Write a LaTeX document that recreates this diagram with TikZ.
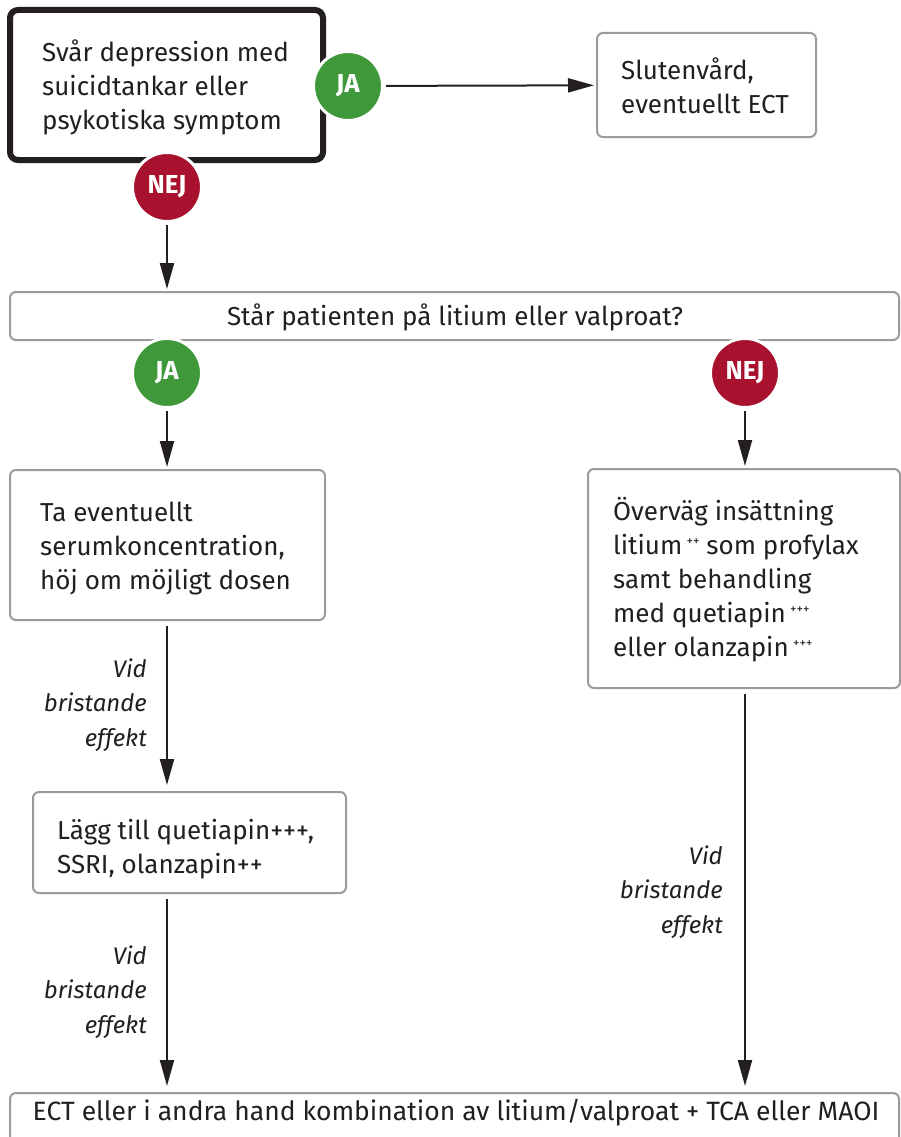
\documentclass[tikz,border=0pt]{standalone}
\usepackage{fontspec}
\setmainfont{Fira Sans}
\usetikzlibrary{arrows.meta}
\definecolor{ink}{HTML}{231F20}
\definecolor{jagreen}{HTML}{3F983A}
\definecolor{nejred}{HTML}{A8122E}
\definecolor{boxgray}{HTML}{9B9B9B}
\newcommand{\supplus}[1]{\,\raisebox{9pt}{\fontsize{13}{13}\selectfont #1}}
\begin{document}
\begin{tikzpicture}[x=1pt,y=-1pt,
  box/.style={draw=boxgray, line width=2pt, rounded corners=6pt, fill=white, inner sep=0},
  mainbox/.style={draw=ink, line width=6pt, rounded corners=8pt, fill=white, inner sep=0},
  txt/.style={text=ink, font=\fontsize{26}{34}\selectfont, align=left, anchor=west, inner sep=0},
  ctxt/.style={text=ink, font=\fontsize{26}{34}\selectfont, align=center, inner sep=0},
  lbl/.style={text=ink, font=\fontsize{24}{34.5}\selectfont\itshape, align=right, anchor=east, inner sep=0},
  badge/.style={circle, minimum size=69pt, inner sep=0, draw=white, line width=3pt, text=white, font=\fontsize{26}{26}\selectfont\bfseries},
  ja/.style={badge, fill=jagreen},
  nej/.style={badge, fill=nejred},
  conn/.style={draw=ink, line width=2pt, -{Triangle[length=26pt,width=14pt]}}
]
\clip (0,0) rectangle (901,1137);
\fill[white] (0,0) rectangle (901,1137);

% boxes
\node[mainbox, minimum width=313pt, minimum height=150pt] (b1) at (166.5,85) {};
\node[box, minimum width=219pt, minimum height=104pt] (slut) at (706.5,85) {};
\node[box, minimum width=889pt, minimum height=48pt] (q) at (454.5,316) {};
\node[box, minimum width=315pt, minimum height=150pt] (b3) at (167.5,545) {};
\node[box, minimum width=312pt, minimum height=219pt] (b4) at (744,578.5) {};
\node[box, minimum width=313pt, minimum height=101pt] (b5) at (189.5,842.5) {};
\node[box, minimum width=889pt, minimum height=70pt] (bot) at (454.5,1128) {};

% texts
\node[txt] (t1) at (42,87) {Svår depression med\\suicidtankar eller\\psykotiska symptom};
\node[txt] (tslut) at (621,86) {Slutenvård,\\eventuellt ECT};
\node[ctxt] (tq) at (455,317) {Står patienten på litium eller valproat?};
\node[txt] (t3) at (40,549) {Ta eventuellt\\serumkoncentration,\\höj om möjligt dosen};
\node[txt] (t4) at (613,580) {Överväg insättning\\litium\supplus{++} som profylax\\samt behandling\\med quetiapin\supplus{+++}\\eller olanzapin\supplus{+++}};
\node[txt] (t5) at (57,849) {Lägg till quetiapin+++,\\SSRI, olanzapin++};
\node[ctxt, font=\fontsize{26.5}{34}\selectfont] (tbot) at (456,1113) {ECT eller i andra hand kombination av litium/valproat + TCA eller MAOI};

% badges
\node[ja] (ja1) at (348,86) {JA};
\node[nej] (nej1) at (167,187) {NEJ};
\node[ja] (ja2) at (167,373) {JA};
\node[nej] (nej2) at (745,373) {NEJ};

% labels
\node[lbl] (l1) at (147,705) {Vid\\bristande\\effekt};
\node[lbl] (l2) at (147,992) {Vid\\bristande\\effekt};
\node[lbl] (l3) at (723,892) {Vid\\bristande\\effekt};

% connectors
\draw[conn, shorten <=2pt, shorten >=2pt] (ja1) -- (slut);
\draw[conn, shorten <=2pt, shorten >=2pt] (nej1) -- (q.north -| nej1);
\draw[conn, shorten <=2pt, shorten >=2pt] (ja2) -- (b3.north -| ja2);
\draw[conn, shorten <=2pt, shorten >=2pt] (nej2) -- (b4.north -| nej2);
\draw[conn, shorten <=5pt, shorten >=6pt] (b3.south -| ja2) -- (b5.north -| ja2);
\draw[conn, shorten <=5pt, shorten >=6pt] (b5.south -| ja2) -- (bot.north -| ja2);
\draw[conn, shorten <=5pt, shorten >=6pt] (b4.south -| nej2) -- (bot.north -| nej2);
\end{tikzpicture}
\end{document}
